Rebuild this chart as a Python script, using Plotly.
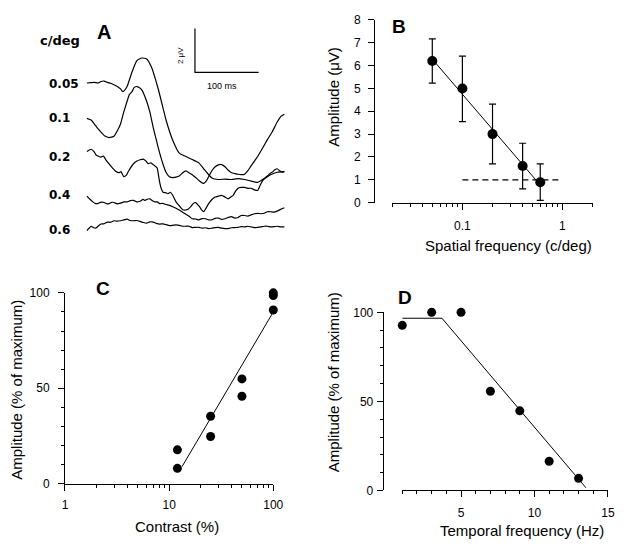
import math
import plotly.graph_objects as go

W, H = 629, 552
FONT = "Arial, Liberation Sans, Helvetica, sans-serif"
LABEL_FONT = "DejaVu Sans, Arial, sans-serif"

# ---------------- Panel A: VEP traces (time in ms, amplitude in µV incl. display offset)
A_LABELS = ["0.05", "0.1", "0.2", "0.4", "0.6"]

T_005 = [0, 6.6, 11.7, 17.4, 22, 27.1, 31.2, 37.4, 47.7, 52.8, 56.3, 59.7, 63.1, 70.8, 78.5, 86.2, 93.8,
         101.5, 111.7, 124.6, 134.8, 145.1, 155.4, 160.5, 165.5, 170.8, 175.8, 183.5, 191.2, 196.3, 206.6,
         216.9, 227.1, 237.4, 247.7, 257.8, 268.2, 278.5, 288.6, 298.9, 310.2]
V_005 = [7.2, 7.22, 7.23, 7.2, 7.27, 7.29, 7.24, 7.19, 7.04, 6.93, 6.81, 6.89, 7.04, 7.70, 8.22, 8.34, 8.30,
         7.92, 6.96, 5.48, 4.59, 4.0, 3.85, 3.78, 3.71, 3.64, 3.56, 3.29, 3.02, 2.87, 2.8,
         2.82, 2.8, 2.84, 2.8, 2.73, 2.67, 2.84, 3.02, 3.13, 3.16]

T_01 = [0, 6.6, 11.7, 16.9, 22, 28.2, 34.8, 38.9, 42.5, 47.7, 52.8, 57.8, 63.1, 66.6, 70.8, 74.3, 78.5, 82,
        86.2, 93.8, 98.9, 104, 109.2, 114.3, 119.4, 124.6, 129.7, 134.8, 140, 145.1, 150.5, 155.4, 160.5,
        165.5, 170.8, 175.8, 183.5, 188.2, 191.2, 196.3, 201.5, 206.6, 211.7, 216.9, 222, 227.1, 232.8,
        237.4, 242, 247.7, 252.8, 257.8, 268.2, 278.5, 283.5, 291.2, 298.9, 305.1, 310.2]
V_01 = [5.59, 5.51, 5.33, 5.13, 4.96, 4.78, 4.71, 4.73, 4.77, 5.02, 5.33, 5.87, 6.37, 6.67, 6.81, 7.0, 7.04, 7.0,
        6.89, 6.37, 5.87, 5.19, 4.58, 4.0, 3.51, 3.11, 2.93, 2.89, 2.91, 2.96, 3.11, 3.19, 3.11,
        3.02, 2.89, 2.76, 2.62, 2.76, 2.93, 3.2, 3.38, 3.47, 3.48, 3.38, 3.22, 3.11, 3.07,
        3.04, 3.02, 3.04, 3.2, 3.42, 3.85, 4.36, 4.62, 4.98, 5.42, 5.69, 5.78]

T_02 = [0, 6.6, 11.2, 14.3, 22, 25.8, 29.7, 34.8, 40, 45.1, 50.2, 53.5, 57.8, 62, 65.5, 73.2, 78.5, 83.5, 88.6,
        92.8, 96.3, 100.5, 104, 110.2, 112.3, 114.3, 116.6, 119.4, 123.5, 127.1, 131.2, 134.8, 140, 145.1,
        150.5, 155.4, 159, 163.1, 166.6, 170.8, 173.6, 176.9, 180.5, 183.5, 186.6, 191.2, 196.3, 201.5,
        206.6, 211.7, 216.9, 222, 225.8, 229.7, 233.5, 237.4, 242, 247.7, 252.8, 257.8, 263, 268.2, 272,
        275.8, 279.7, 283.5, 288.2, 291.2, 295.1, 298.9, 302.8, 306.6, 310.2]
V_02 = [4.08, 4.18, 4.07, 3.92, 3.82, 3.87, 3.70, 3.51, 3.33, 3.18, 3.11, 3.16, 2.93, 3.0, 3.19, 3.52, 3.64, 3.70, 3.73,
        3.64, 3.52, 3.56, 3.48, 3.33, 3.02, 2.67, 2.4, 2.22, 2.2, 2.15, 2.22, 2.08, 1.78, 1.6,
        1.42, 1.41, 1.44, 1.56, 1.69, 1.75, 1.67, 1.56, 1.4, 1.33, 1.47, 1.70, 1.89, 2.0,
        2.04, 2.08, 2.0, 1.92, 2.0, 2.08, 2.27, 2.4, 2.44, 2.44, 2.4, 2.4, 2.33, 2.3, 2.53,
        2.74, 2.87, 2.96, 3.09, 3.14, 3.24, 3.29, 3.2, 3.14, 3.16]

T_04 = [0, 4.3, 9.2, 12.8, 16.9, 21.2, 27.1, 32, 34.8, 38.9, 42.5, 47.4, 52.8, 58.2, 63.1, 68.2, 73.2, 78.2,
        83.5, 88.2, 91.2, 95.8, 98.9, 103.5, 106.6, 110.5, 114.3, 118.9, 124.6, 129.7, 134.8, 140, 145.1,
        150.2, 155.4, 160.5, 165.5, 170.8, 175.8, 180.9, 186.2, 191.2, 196.3, 201.5, 206.6, 211.7, 216.9,
        222, 227.1, 232.3, 237.4, 242.5, 247.7, 252.8, 257.8, 263, 268.2, 273.2, 278.5, 283.5, 288.6,
        293.8, 298.9, 304.3, 310.2]
V_04 = [2.04, 1.91, 1.78, 1.71, 1.70, 1.76, 1.75, 1.69, 1.70, 1.76, 1.75, 1.69, 1.72, 1.78, 1.78, 1.84, 1.85, 1.78,
        1.81, 1.89, 1.85, 1.91, 1.92, 1.82, 1.78, 1.78, 1.70, 1.71, 1.66, 1.62, 1.56, 1.49, 1.41,
        1.31, 1.22, 1.13, 1.01, 1.0, 0.96, 1.02, 1.01, 0.96, 0.96, 1.03, 1.04, 0.98, 1.01,
        1.07, 1.11, 1.04, 1.07, 1.16, 1.16, 1.13, 1.19, 1.24, 1.26, 1.24, 1.26, 1.33, 1.33,
        1.31, 1.36, 1.44, 1.51]

T_06 = [0, 3.5, 6.6, 10.5, 14.3, 18.2, 22, 26.6, 32.3, 37.4, 42.5, 47.4, 52.8, 57.8, 63.1, 68.2, 73.2, 78.5,
        83.5, 88.6, 93.8, 98.9, 104, 109.2, 114.3, 119.4, 124.6, 129.7, 134.8, 140, 145.1, 150.2, 155.4,
        160.5, 165.5, 170.8, 175.8, 180.9, 186.2, 191.2, 196.3, 201.5, 206.6, 211.7, 216.9, 222, 227.1,
        232.3, 237.4, 242.5, 247.7, 252.8, 257.8, 263, 268.2, 273.2, 278.5, 283.5, 288.6, 293.8, 298.9,
        304.3, 310.2]
V_06 = [0.47, 0.58, 0.67, 0.6, 0.59, 0.69, 0.77, 0.78, 0.86, 0.85, 0.92, 0.9, 0.92, 0.96, 0.99, 0.93, 0.92, 0.93,
        0.89, 0.84, 0.81, 0.87, 0.86, 0.8, 0.77, 0.78, 0.74, 0.7, 0.71, 0.73, 0.71, 0.67, 0.67,
        0.67, 0.61, 0.62, 0.62, 0.58, 0.6, 0.56, 0.58, 0.61, 0.62, 0.58, 0.56, 0.56, 0.6,
        0.61, 0.62, 0.65, 0.64, 0.67, 0.64, 0.61, 0.62, 0.64, 0.67, 0.67, 0.64, 0.65, 0.67,
        0.64, 0.64]

SCALE_MS = 100
SCALE_UV = 2

# ---------------- Panel B: amplitude vs spatial frequency
B_SF = [0.05, 0.1, 0.2, 0.4, 0.6]
B_AMP = [6.2, 5.0, 3.0, 1.6, 0.89]
B_ERR_HI = [7.17, 6.42, 4.31, 2.6, 1.7]
B_ERR_LO = [5.23, 3.55, 1.7, 0.6, 0.1]
B_FIT_X = [0.0508, 0.55]
B_FIT_Y = [6.25, 0.96]
B_NOISE_X = [0.1, 1.0]
B_NOISE_Y = [1.0, 1.0]

# ---------------- Panel C: amplitude vs contrast
C_CONTRAST = [12, 12, 25, 25, 50, 50, 100, 100, 100]
C_AMP = [17.7, 8.0, 35.3, 24.7, 54.9, 45.8, 100, 98.6, 91.0]
C_FIT_X = [13.3, 100]
C_FIT_Y = [8.9, 90.0]

# ---------------- Panel D: amplitude vs temporal frequency
D_TF = [1, 3, 5, 7, 9, 11, 13]
D_AMP = [92.7, 100.0, 100.0, 55.7, 44.7, 16.4, 6.8]
D_FIT_X = [1, 3.7, 13.5]
D_FIT_Y = [96.7, 96.7, 1.5]


def px(x):
    return x / W


def py(y):
    return 1 - y / H


fig = go.Figure()

# Panel A traces
for t, v in [(T_005, V_005), (T_01, V_01), (T_02, V_02), (T_04, V_04), (T_06, V_06)]:
    fig.add_trace(go.Scatter(x=t, y=v, mode="lines", line=dict(color="black", width=1.2, shape="spline", smoothing=0.5),
                             xaxis="x", yaxis="y", showlegend=False, hoverinfo="skip"))
# scale bar
SB_T0, SB_V0 = 169.7, 7.69
fig.add_trace(go.Scatter(x=[SB_T0, SB_T0, SB_T0 + SCALE_MS], y=[SB_V0 + SCALE_UV, SB_V0, SB_V0],
                         mode="lines", line=dict(color="black", width=1.2), xaxis="x", yaxis="y",
                         showlegend=False, hoverinfo="skip"))

# Panel B
fig.add_trace(go.Scatter(x=B_NOISE_X, y=B_NOISE_Y, mode="lines", line=dict(color="black", width=1.3, dash="6px,4px"),
                         xaxis="x2", yaxis="y2", showlegend=False))
fig.add_trace(go.Scatter(x=B_FIT_X, y=B_FIT_Y, mode="lines", line=dict(color="black", width=1),
                         xaxis="x2", yaxis="y2", showlegend=False))
fig.add_trace(go.Scatter(
    x=B_SF, y=B_AMP, mode="markers", marker=dict(color="black", size=10),
    error_y=dict(type="data", symmetric=False,
                 array=[h - a for h, a in zip(B_ERR_HI, B_AMP)],
                 arrayminus=[a - l for l, a in zip(B_ERR_LO, B_AMP)],
                 color="black", thickness=1.2, width=3.5),
    xaxis="x2", yaxis="y2", showlegend=False, cliponaxis=False))

# Panel C
fig.add_trace(go.Scatter(x=C_FIT_X, y=C_FIT_Y, mode="lines", line=dict(color="black", width=1),
                         xaxis="x3", yaxis="y3", showlegend=False))
fig.add_trace(go.Scatter(x=C_CONTRAST, y=C_AMP, mode="markers", marker=dict(color="black", size=9),
                         xaxis="x3", yaxis="y3", showlegend=False, cliponaxis=False))

# Panel D
fig.add_trace(go.Scatter(x=D_FIT_X, y=D_FIT_Y, mode="lines", line=dict(color="black", width=1),
                         xaxis="x4", yaxis="y4", showlegend=False))
fig.add_trace(go.Scatter(x=D_TF, y=D_AMP, mode="markers", marker=dict(color="black", size=9),
                         xaxis="x4", yaxis="y4", showlegend=False, cliponaxis=False))

TICKFONT = dict(family=FONT, size=12, color="black")
AX = dict(showgrid=False, zeroline=False, showline=True, linecolor="black", linewidth=1,
          ticks="outside", tickcolor="black", tickwidth=1, tickfont=TICKFONT)

fig.update_layout(
    width=W, height=H, margin=dict(l=0, r=0, t=0, b=0),
    paper_bgcolor="white", plot_bgcolor="white",
    font=dict(family=FONT, color="black"),
    showlegend=False,
    # Panel A
    xaxis=dict(domain=[px(80), px(300)], range=[-8.77, 329.7], visible=False),
    yaxis=dict(domain=[py(245), py(10)], range=[-0.222, 10.222], visible=False, anchor="x"),
    # Panel B
    xaxis2=dict(AX, domain=[px(397.7), px(602)], type="log", range=[math.log10(0.02), math.log10(2)],
                anchor="y2", tickmode="array", tickvals=[0.1, 1], ticktext=["0.1", "1"], ticklen=6,
                ticklabelstandoff=6,
                minor=dict(tickmode="array", tickvals=[0.02, 0.03, 0.04, 0.05, 0.06, 0.07, 0.08, 0.09,
                                                       0.2, 0.3, 0.4, 0.5, 0.6, 0.7, 0.8, 0.9, 2],
                           ticks="outside", ticklen=3, tickcolor="black", showgrid=False)),
    yaxis2=dict(AX, domain=[py(200.7), py(13.3)], range=[0, 8], anchor="free", position=px(379),
                tickmode="array", tickvals=list(range(9)), ticklen=6, ticklabelstandoff=5),
    # Panel C
    xaxis3=dict(AX, domain=[px(63.3), px(276)], type="log", range=[0, 2], anchor="y3",
                tickmode="array", tickvals=[1, 10, 100], ticktext=["1", "10", "100"], ticklen=6,
                ticklabelstandoff=4,
                minor=dict(tickmode="array", tickvals=[2, 3, 4, 5, 6, 7, 8, 9, 20, 30, 40, 50, 60, 70, 80, 90],
                           ticks="outside", ticklen=3, tickcolor="black", showgrid=False)),
    yaxis3=dict(AX, domain=[py(489), py(293.3)], range=[0, 100], anchor="x3",
                tickmode="array", tickvals=[0, 50, 100], ticklen=6, ticklabelstandoff=6,
                minor=dict(dtick=10, tick0=0, ticks="outside", ticklen=3, tickcolor="black", showgrid=False)),
    # Panel D
    xaxis4=dict(AX, domain=[px(407.7), px(617.7)], range=[1, 15], anchor="y4",
                tickmode="array", tickvals=[5, 10, 15], ticklen=6, ticklabelstandoff=5,
                minor=dict(dtick=1, tick0=1, ticks="outside", ticklen=3, tickcolor="black", showgrid=False)),
    yaxis4=dict(AX, domain=[py(496), py(313.3)], range=[0, 100], anchor="free", position=px(387.7),
                tickmode="array", tickvals=[0, 50, 100], ticklen=6, ticklabelstandoff=1,
                minor=dict(dtick=10, tick0=0, ticks="outside", ticklen=3, tickcolor="black", showgrid=False)),
)

ann = []


def pa(text, x, y, size, bold=False, angle=0, xanchor="center", family=FONT):
    ann.append(dict(text=f"<b>{text}</b>" if bold else text, x=px(x), y=py(y), xref="paper", yref="paper",
                    showarrow=False, textangle=angle, xanchor=xanchor, yanchor="middle",
                    font=dict(family=family, size=size, color="black")))


# panel letters
pa("A", 103, 26, 20, bold=True)
pa("B", 404, 20, 19, bold=True)
pa("C", 102, 289, 19, bold=True)
pa("D", 410, 298, 19, bold=True)

# panel A labels
pa("c/deg", 36, 34, 13, bold=True, xanchor="left", family=LABEL_FONT)
for lab, yy in zip(A_LABELS, [79, 114, 154, 193, 229]):
    pa(lab, 45, yy, 12, bold=True, xanchor="left", family=LABEL_FONT)

# scale bar labels (data coords of panel A)
ann.append(dict(text=f"{SCALE_UV} μV", x=148.2, y=8.44, xref="x", yref="y", showarrow=False, textangle=-90,
                font=dict(family=FONT, size=8, color="black")))
ann.append(dict(text=f"{SCALE_MS} ms", x=212.8, y=7.07, xref="x", yref="y", showarrow=False,
                font=dict(family=FONT, size=9, color="black")))

# axis titles
pa("Spatial frequency (c/deg)", 516, 245, 15)
pa("Amplitude (μV)", 338, 92, 15, angle=-90)
pa("Contrast (%)", 177.5, 533, 15)
pa("Amplitude (% of maximum)", 13, 393, 15, angle=-90)
pa("Temporal frequency (Hz)", 530, 537, 15)
pa("Amplitude (% of maximum)", 337, 385, 15, angle=-90)

fig.update_layout(annotations=ann)
fig.write_html("out.html", config={"displayModeBar": False},
               post_script="document.body.style.margin='0';document.body.style.padding='0';"
                           "document.documentElement.style.overflow='hidden';")
